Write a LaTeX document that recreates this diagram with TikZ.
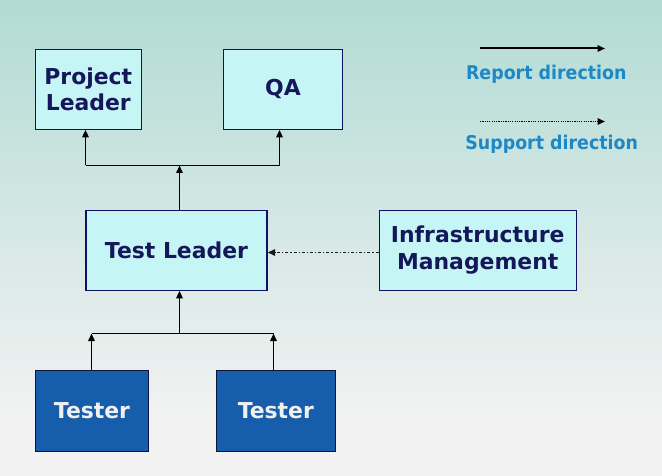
\documentclass[tikz,border=0pt]{standalone}
\usepackage{fontspec}
\setmainfont{DejaVu Sans}
\usepackage{graphicx}
\usetikzlibrary{arrows.meta,calc}
\definecolor{bgtop}{RGB}{178,219,212}
\definecolor{bgbot}{RGB}{242,242,242}
\definecolor{boxfill}{RGB}{198,245,245}
\definecolor{boxline}{RGB}{16,16,100}
\definecolor{boxtext}{RGB}{22,22,90}
\definecolor{tfill}{RGB}{22,94,172}
\definecolor{tline}{RGB}{10,20,60}
\definecolor{legcol}{RGB}{30,136,196}
\begin{document}
\begin{tikzpicture}[x=1bp,y=-1bp,
  boxfont/.style={font=\bfseries\fontsize{22}{26.5}\selectfont},
  lbox/.style={draw=boxline, line width=1.3bp, fill=boxfill, text=boxtext, boxfont, align=center, inner sep=0pt},
  tbox/.style={draw=tline, line width=1.3bp, fill=tfill, text=white!94!black, boxfont, align=center, inner sep=0pt},
  conn/.style={line width=1.5bp, black},
  rep/.style={conn, -{Triangle[length=7.5bp,width=6.5bp]}},
  sup/.style={line width=1.3bp, black!90, dash pattern=on 3bp off 2bp on 1.2bp off 2bp, -{Triangle[length=7.5bp,width=6.5bp]}},
  supleg/.style={line width=1.9bp, black, dash pattern=on 1.2bp off 1.1bp, -{Triangle[length=7.5bp,width=6.5bp]}},
  legtext/.style={text=legcol, font=\bfseries\fontsize{19}{22}\selectfont, anchor=base, inner sep=0pt}
]
\useasboundingbox (0,0) rectangle (662,476);
\fill[top color=bgtop, bottom color=bgbot] (0,0) rectangle (662,420);
\fill[bgbot] (0,420) rectangle (662,476);

% boxes
\node[lbox, minimum width=106bp, minimum height=80bp] (pl) at (88.3,89.2) {Project\\Leader};
\node[lbox, minimum width=119bp, minimum height=80bp] (qa) at (283,89.2) {QA};
\node[lbox, minimum width=181bp, minimum height=80bp] (tl) at (176.5,250.2) {Test Leader};
\node[lbox, minimum width=197bp, minimum height=80bp] (im) at (477.7,250.2) {Infrastructure\\Management};
\node[tbox, minimum width=113bp, minimum height=81bp] (t1) at (92,410.8) {Tester};
\node[tbox, minimum width=119bp, minimum height=81bp] (t2) at (275.8,410.8) {Tester};

% top connectors
\coordinate (jt) at (179.5,165.5);
\coordinate (jtl) at (85.5,165.5);
\coordinate (jtr) at (279.5,165.5);
\draw[rep] (tl.north -| jt) -- (jt);
\draw[conn] (jtl) -- (jtr);
\draw[rep] (jtl) -- (pl.south -| jtl);
\draw[rep] (jtr) -- (qa.south -| jtr);

% bottom connectors
\coordinate (jb) at (179.5,333.5);
\coordinate (jbl) at (91.5,333.5);
\coordinate (jbr) at (273.5,333.5);
\draw[conn] (jbl) -- (jbr);
\draw[rep] (t1.north -| jbl) -- (jbl);
\draw[rep] (t2.north -| jbr) -- (jbr);
\draw[rep] (jb) -- (tl.south -| jb);

% support connector
\coordinate (dsp) at ($(im.west)+(0,2.3)$);
\draw[sup] (dsp) -- (tl.east |- dsp);

% legend
\coordinate (ra) at (480,48.5);
\coordinate (rb) at (605,48.5);
\draw[rep, line width=2bp] (ra) -- (rb);
\node[legtext] (rt) at (546.3,80) {\scalebox{0.92}[1]{Report direction}};
\coordinate (sa) at (480,121.5);
\coordinate (sb) at (605,121.5);
\draw[supleg] (sa) -- (sb);
\node[legtext] (st) at (551.7,150) {\scalebox{0.92}[1]{Support direction}};
\end{tikzpicture}
\end{document}
